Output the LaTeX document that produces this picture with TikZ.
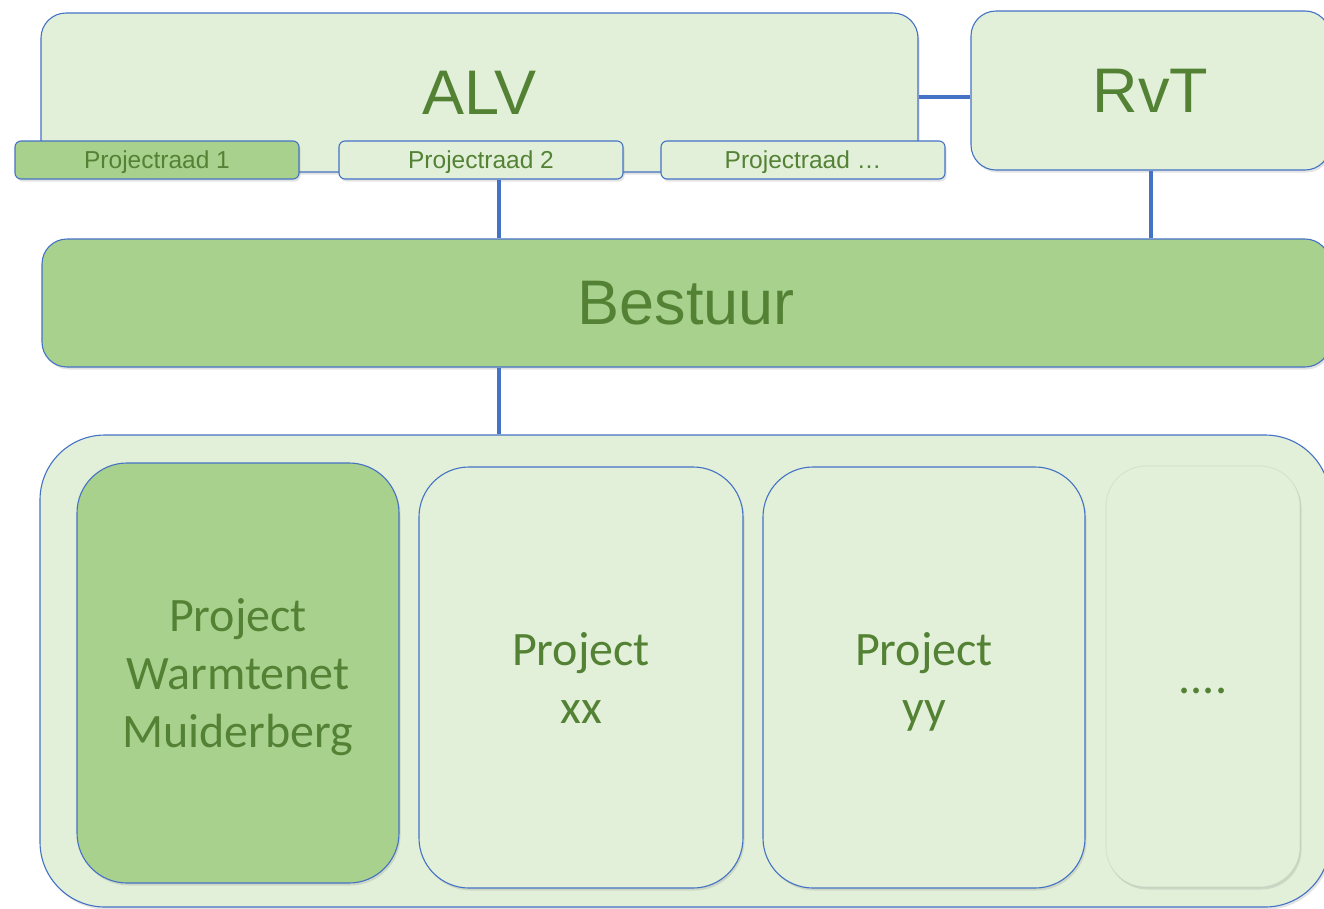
\documentclass[tikz,border=0pt]{standalone}
\usepackage{fontspec}
\setmainfont{Liberation Sans}
\newfontfamily\calibri{Carlito}
\usetikzlibrary{shadows}
\definecolor{lightg}{HTML}{E2F0D9}
\definecolor{darkg}{HTML}{A9D18E}
\definecolor{edgeblue}{HTML}{4472C4}
\definecolor{txtg}{HTML}{548235}
\begin{document}
\begin{tikzpicture}[x=1pt,y=-1pt,
  boxbase/.style={draw=edgeblue, line width=1.1pt, inner sep=0pt, text=txtg,
    drop shadow={opacity=0.22, shadow xshift=1.5pt, shadow yshift=-2.5pt}},
  bigbox/.style={boxbase, rounded corners=25pt, font=\fontsize{63}{70}\selectfont},
  prbox/.style={boxbase, rounded corners=6pt, minimum width=284pt, minimum height=38pt,
    text depth=0pt, font=\fontsize{24.5}{28}\selectfont},
  projbox/.style={boxbase, rounded corners=50pt, fill=lightg, align=center, text depth=0pt,
    font=\calibri\fontsize{48}{58}\selectfont},
  conn/.style={draw=edgeblue, line width=4pt}
]
\clip (0,0) rectangle (1324,908);
\fill[white] (0,0) rectangle (1324,908);

% ALV and Projectraad boxes
\node[bigbox, fill=lightg, minimum width=877pt, minimum height=159pt] (alv) at (479.5,92.5) {ALV};
\node[prbox, fill=darkg] (pr1) at (157,160) {Projectraad 1};
\node[prbox, fill=lightg] (pr2) at (481,160) {Projectraad 2};
\node[prbox, fill=lightg] (pr3) at (803,160) {Projectraad \dots};

% RvT
\node[bigbox, fill=lightg, minimum width=359pt, minimum height=159pt] (rvt) at (1150.5,90.5) {RvT};

% Bestuur
\node[bigbox, fill=darkg, minimum width=1288pt, minimum height=128pt] (bestuur) at (686,303) {Bestuur};

% Container
\node[boxbase, fill=lightg, rounded corners=65pt, minimum width=1290pt, minimum height=472pt] (cont) at (685,671) {};

% Projects
\node[projbox, fill=darkg, minimum width=322pt, minimum height=420pt] (p1) at (238,673) {Project\\Warmtenet\\Muiderberg};
\node[projbox, minimum width=324pt, minimum height=421pt] (p2) at (581,677.5) {Project\\xx};
\node[projbox, minimum width=322pt, minimum height=421pt] (p3) at (924,677.5) {Project\\yy};
\node[projbox, draw=black, draw opacity=0.05, rounded corners=40pt, minimum width=194pt, minimum height=421pt] (p4) at (1203,676.5) {};
\node[text=txtg, font=\calibri\fontsize{48}{58}\selectfont, inner sep=0pt, anchor=base] (dots) at (1203,693) {....};

% Connectors
\draw[conn] (alv.east |- 0,97) -- (rvt.west |- 0,97);
\draw[conn] (rvt.south -| 1151,0) -- (bestuur.north -| 1151,0);
\draw[conn] (pr2.south -| 499,0) -- (bestuur.north -| 499,0);
\draw[conn] (bestuur.south -| 499,0) -- (cont.north -| 499,0);
\end{tikzpicture}
\end{document}
